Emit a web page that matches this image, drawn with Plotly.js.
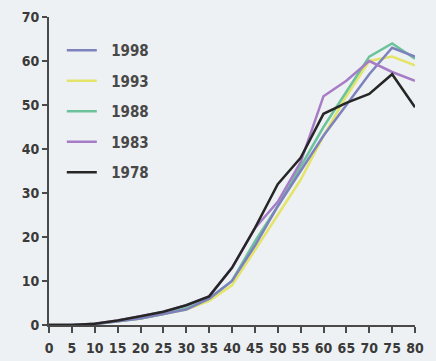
<!DOCTYPE html>
<html>
<head>
<meta charset="utf-8">
<script src="https://cdn.plot.ly/plotly-3.0.1.min.js"></script>
<style>
  html, body { margin: 0; padding: 0; background: #eef1f3; }
  #chart { width: 436px; height: 361px; }
</style>
</head>
<body>
<div id="chart"></div>
<script>
// Age groups (x axis)
const ages = [0, 5, 10, 15, 20, 25, 30, 35, 40, 45, 50, 55, 60, 65, 70, 75, 80];

// One series per survey year
const y1998 = [0, 0, 0.2, 0.8, 1.5, 2.5, 3.5, 6, 10, 18, 27, 35, 43, 50, 57, 63, 61];
const y1993 = [0, 0, 0.2, 0.8, 1.5, 2.5, 3.5, 5.5, 9, 17, 25, 33, 43, 52, 60, 61, 59];
const y1988 = [0, 0, 0.2, 0.8, 1.5, 2.5, 3.8, 6, 10, 19, 27, 36, 45, 53, 61, 64, 60.5];
const y1983 = [0, 0, 0.3, 1, 2, 3, 4.5, 6.5, 13, 22, 28, 37, 52, 55.5, 60, 57.5, 55.5];
const y1978 = [0, 0, 0.3, 1, 2, 3, 4.5, 6.5, 13, 22, 32, 38, 48, 50.5, 52.5, 57, 49.5];

const seriesNames = ['1998', '1993', '1988', '1983', '1978'];
const seriesValues = [y1998, y1993, y1988, y1983, y1978];
const seriesColors = ['#7d82bd', '#e4e46a', '#6cc39b', '#a77cc6', '#262626'];

const xTicks = ages;
const yTicks = [0, 10, 20, 30, 40, 50, 60, 70];

// a little extra room between each legend swatch and its label
const legendPad = '\u00a0\u00a0';

const traces = seriesNames.map((name, i) => ({
  x: ages,
  y: seriesValues[i],
  name: legendPad + name,
  legendgroup: name,
  legendrank: i + 1,
  type: 'scatter',
  mode: 'lines',
  line: { color: seriesColors[i], width: 2.5 },
  cliponaxis: false
}));
// draw the darker lines last so they sit on top
const drawOrder = [1, 2, 0, 3, 4].map(i => traces[i]);

const fontFamily = '"DejaVu Sans Condensed", "Liberation Sans Narrow", Arial, sans-serif';
const tickFont = { family: fontFamily, size: 14, color: '#3a3a3a', weight: 'bold' };

const layout = {
  width: 436,
  height: 361,
  paper_bgcolor: '#eef1f3',
  plot_bgcolor: '#eef1f3',
  margin: { l: 49, r: 21, t: 17, b: 36 },
  showlegend: true,
  legend: {
    x: 0.035, y: 0.945, xanchor: 'left', yanchor: 'top',
    bgcolor: 'rgba(0,0,0,0)',
    font: { family: fontFamily, size: 15, color: '#484848', weight: 'bold' },
    tracegroupgap: 8,
    traceorder: 'grouped',
    itemwidth: 30
  },
  xaxis: {
    range: [0, 80],
    tickvals: xTicks,
    ticktext: xTicks.map(String),
    showgrid: false, zeroline: false,
    showline: true, linecolor: '#4a4a4a', linewidth: 2,
    ticks: 'outside', ticklen: 6, tickwidth: 2, tickcolor: '#4a4a4a',
    ticklabelstandoff: 3,
    tickfont: tickFont,
    fixedrange: true
  },
  yaxis: {
    range: [0, 70],
    tickvals: yTicks,
    ticktext: yTicks.map(String),
    showgrid: false, zeroline: false,
    showline: true, linecolor: '#4a4a4a', linewidth: 2,
    ticks: 'outside', ticklen: 5, tickwidth: 2, tickcolor: '#4a4a4a',
    tickfont: tickFont,
    fixedrange: true
  }
};

Plotly.newPlot('chart', drawOrder, layout, { staticPlot: true, displayModeBar: false });
</script>
</body>
</html>
